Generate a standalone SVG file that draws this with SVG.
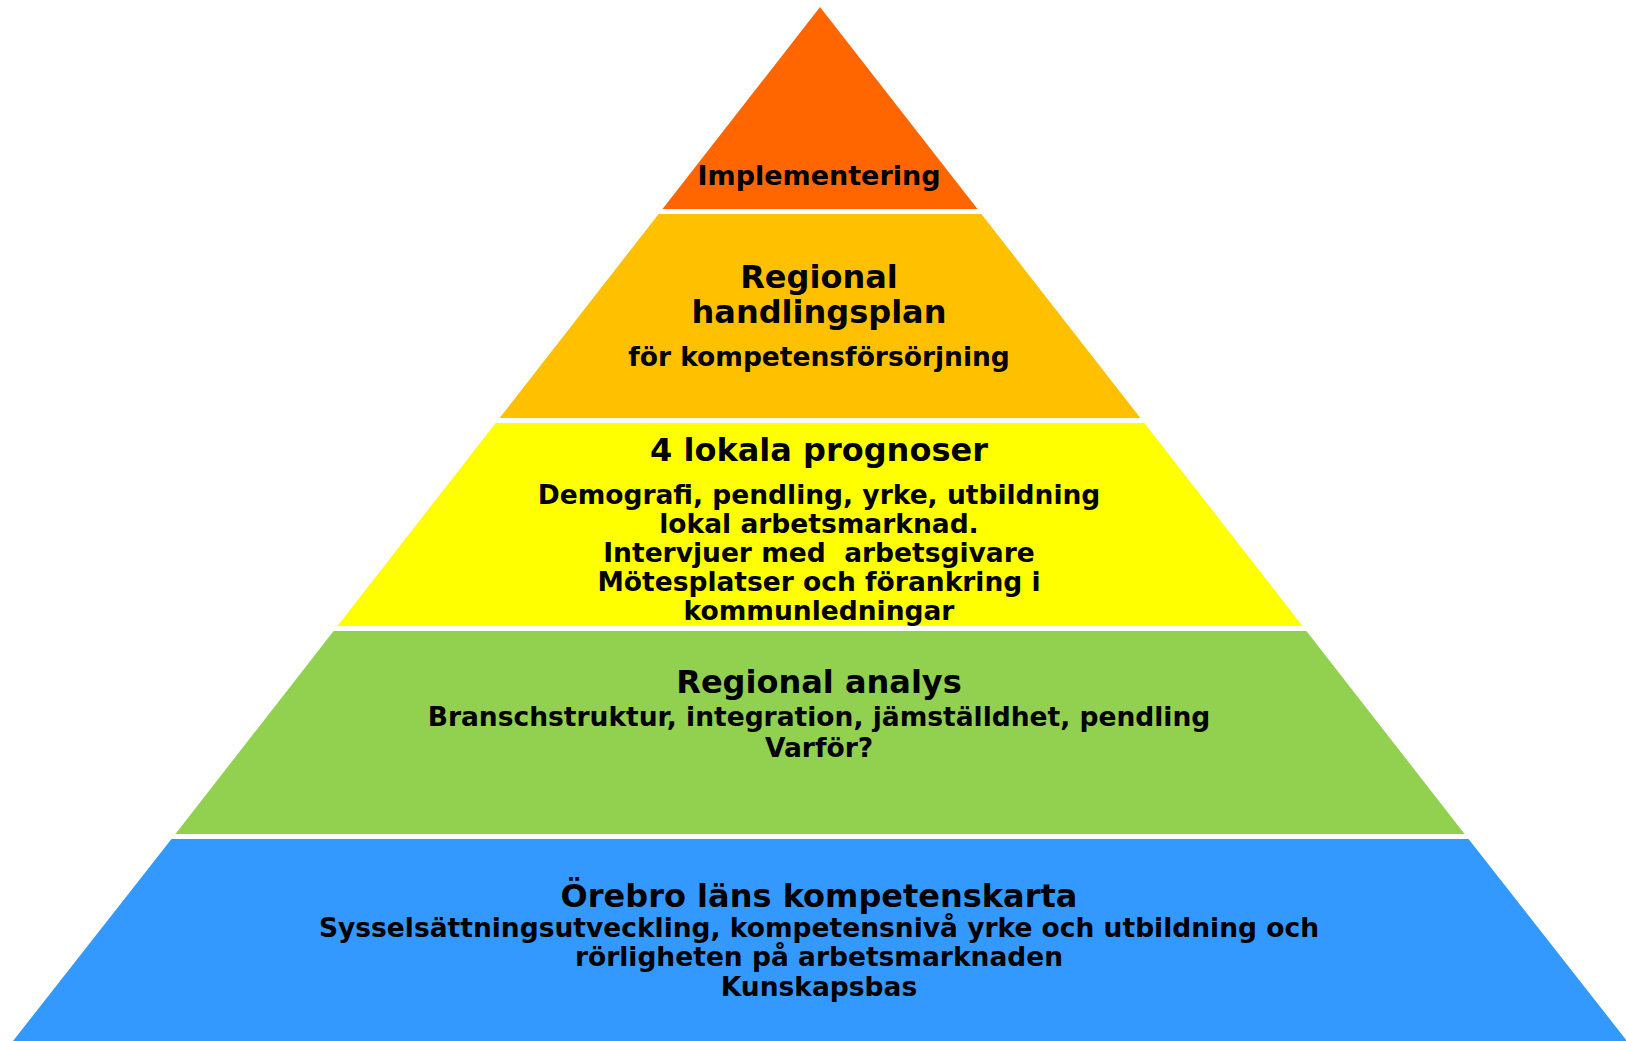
<svg xmlns="http://www.w3.org/2000/svg" width="1626" height="1041" viewBox="0 0 1626 1041">
<style>
text{font-family:"DejaVu Sans","Liberation Sans",sans-serif;font-weight:bold;fill:#000;text-anchor:middle}
.h{font-size:32px}
.b{font-size:26.5px}
.t{font-size:27px}
</style>
<rect width="1626" height="1041" fill="#fff"/>
<g id="implementering">
<polygon points="820,7 977.5,209 662.5,209" fill="#FF6600"/>
<text class="t" x="819" y="185">Implementering</text>
</g>
<g id="handlingsplan">
<polygon points="658.6,214 981.4,214 1140.4,418 499.6,418" fill="#FFC000"/>
<text class="h" x="819" y="288">Regional</text>
<text class="h" x="819" y="323">handlingsplan</text>
<text class="b" x="819" y="366">för kompetensförsörjning</text>
</g>
<g id="prognoser">
<polygon points="495.7,423 1144.3,423 1302.5,626 337.5,626" fill="#FFFF00"/>
<text class="h" x="819" y="461">4 lokala prognoser</text>
<text class="b" x="819" y="504">Demografi, pendling, yrke, utbildning</text>
<text class="b" x="819" y="533">lokal arbetsmarknad.</text>
<text class="b" x="819" y="562" xml:space="preserve">Intervjuer med  arbetsgivare</text>
<text class="b" x="819" y="591">Mötesplatser och förankring i</text>
<text class="b" x="819" y="620">kommunledningar</text>
</g>
<g id="analys">
<polygon points="333.6,631 1306.4,631 1464.6,834 175.4,834" fill="#92D050"/>
<text class="h" x="819" y="693">Regional analys</text>
<text class="b" x="819" y="726">Branschstruktur, integration, jämställdhet, pendling</text>
<text class="b" x="819" y="757">Varför?</text>
</g>
<g id="kompetenskarta">
<polygon points="171.5,839 1468.5,839 1627,1041 13,1041" fill="#3399FF"/>
<text class="h" x="819" y="907">Örebro läns kompetenskarta</text>
<text class="b" x="819" y="937">Sysselsättningsutveckling, kompetensnivå yrke och utbildning och</text>
<text class="b" x="819" y="966">rörligheten på arbetsmarknaden</text>
<text class="b" x="819" y="996">Kunskapsbas</text>
</g>
</svg>
